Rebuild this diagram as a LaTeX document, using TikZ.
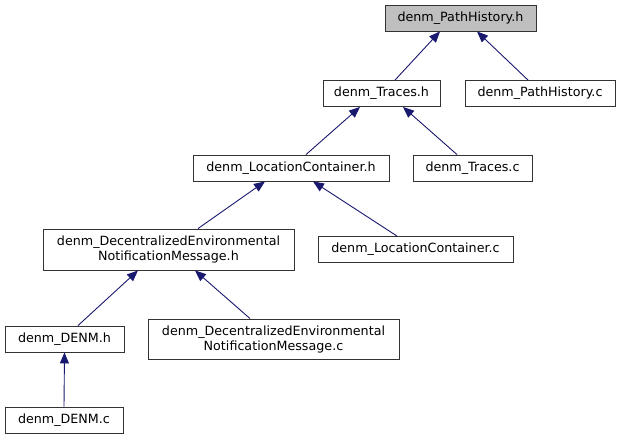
\documentclass[tikz,border=0pt]{standalone}
\usepackage{fontspec}
\setmainfont{DejaVu Sans}
\usetikzlibrary{arrows.meta}
\definecolor{edgeblue}{HTML}{191970}
\definecolor{boxgray}{HTML}{BFBFBF}
\begin{document}
\begin{tikzpicture}[x=1pt,y=-1pt,
  box/.style={draw=black!80,line width=0.9pt,fill=white,inner sep=0pt,align=center,
    font=\fontsize{12.7}{15}\selectfont,minimum height=26pt},
  edge/.style={draw=edgeblue,line width=0.9pt,{Triangle[length=11pt,width=9pt,fill=edgeblue]}-}
]
\useasboundingbox[fill=white] (0,0) rectangle (621,440);
\node[box,fill=boxgray,minimum width=151pt] (ph) at (460.5,18) {denm\_PathHistory.h};
\node[box,minimum width=117pt] (trh) at (381.5,93.5) {denm\_Traces.h};
\node[box,minimum width=150pt] (phc) at (540,93.5) {denm\_PathHistory.c};
\node[box,minimum width=196pt] (lch) at (291,168) {denm\_LocationContainer.h};
\node[box,minimum width=119pt] (trc) at (472.5,168) {denm\_Traces.c};
\node[box,minimum width=251pt,minimum height=41pt] (dmh) at (168.5,249.5) {denm\_DecentralizedEnvironmental\\NotificationMessage.h};
\node[box,minimum width=195pt] (lcc) at (415.5,249.5) {denm\_LocationContainer.c};
\node[box,minimum width=119pt] (dh) at (64.5,339) {denm\_DENM.h};
\node[box,minimum width=251pt,minimum height=40pt] (dmc) at (273.5,339) {denm\_DecentralizedEnvironmental\\NotificationMessage.c};
\node[box,minimum width=118pt] (dc) at (64,420) {denm\_DENM.c};

\draw[edge] ([xshift=-20.5pt]ph.south) -- ([xshift=13.5pt]trh.north);
\draw[edge] ([xshift=16.5pt]ph.south) -- ([xshift=-12pt]phc.north);
\draw[edge] ([xshift=-21.5pt]trh.south) -- ([xshift=15pt]lch.north);
\draw[edge] ([xshift=21.5pt]trh.south) -- ([xshift=-15.5pt]trc.north);
\draw[edge] ([xshift=-26pt]lch.south) -- ([xshift=29.5pt]dmh.north);
\draw[edge] ([xshift=22pt]lch.south) -- ([xshift=-18.5pt]lcc.north);
\draw[edge] ([xshift=-30.5pt]dmh.south) -- ([xshift=13.5pt]dh.north);
\draw[edge] ([xshift=26.5pt]dmh.south) -- ([xshift=-23.5pt]dmc.north);
\draw[edge] (dh.south) -- (dc.north);
\end{tikzpicture}
\end{document}
